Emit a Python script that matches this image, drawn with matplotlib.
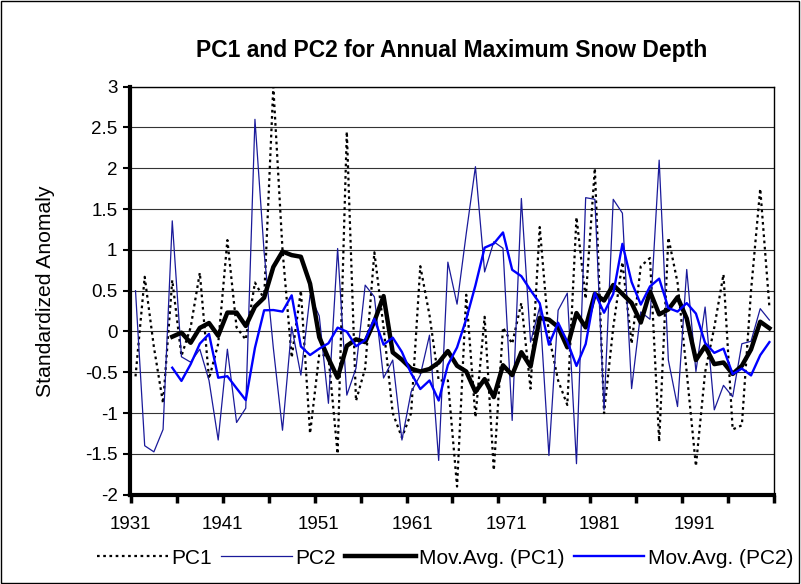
import numpy as np
import pandas as pd
import matplotlib
matplotlib.use("Agg")
import matplotlib.pyplot as plt
from matplotlib.patches import Rectangle

plt.rcParams['font.family'] = ['Liberation Sans', 'DejaVu Sans']

years = np.arange(1931, 2001)

pc1 = [-0.55, 0.67, -0.19, -0.88, 0.63, -0.3, 0.05, 0.72, -0.58, -0.15,
       1.12, 0.05, -0.1, 0.6, 0.4, 3.0, 1.0, -0.32, 0.5, -1.25,
       -0.28, -0.3, -1.5, 2.45, -0.85, -0.45, 0.97, 0.05, -1.0, -1.3,
       -1.0, 0.8, 0.2, -0.6, -0.6, -1.9, 0.45, -1.05, 0.18, -1.7,
       0.05, -0.15, 0.35, -0.7, 1.28, -0.05, -0.6, -0.9, 1.4, 0.4,
       2.0, -1.0, 0.05, 0.85, -0.15, 0.8, 0.9, -1.35, 1.15, 0.6,
       -0.5, -1.65, -0.5, 0.05, 0.7, -1.2, -1.15, 0.5, 1.75, 0.3]

pc2 = [0.5, -1.4, -1.475, -1.2, 1.356, -0.31, -0.376, -0.217, -0.6, -1.33,
       -0.217, -1.115, -0.94, 2.6, 0.97, -0.2, -1.21, 0.057, -0.535, 0.445,
       0.19, -0.88, 1.017, -0.78, -0.45, 0.568, 0.425, -0.57, -0.35, -1.33,
       -0.74, -0.535, -0.045, -1.58, 0.85, 0.335, 1.2, 2.02, 0.73, 1.1,
       1.02, -1.09, 1.63, -0.13, 0.30, -1.52, 0.26, 0.47, -1.62, 1.64,
       1.62, -0.96, 1.62, 1.45, -0.70, 0.24, 0.15, 2.1, -0.35, -0.92,
       0.76, -0.49, 0.3, -0.96, -0.66, -0.8, -0.15, -0.12, 0.28, 0.14]

tick_years = [1931, 1941, 1951, 1961, 1971, 1981, 1991]

df = pd.DataFrame({'year': years, 'PC1': pc1, 'PC2': pc2})
# 5-year moving averages (Excel trendline)
df['ma1'] = df['PC1'].rolling(5).mean()
df['ma2'] = df['PC2'].rolling(5).mean()

x = np.arange(len(df))

fig = plt.figure(figsize=(8.01, 5.84), dpi=100)
ax = fig.add_axes([130/801, 1 - 494.7/584, 644/801, 408/584])

ax.plot(x, df['PC1'], color='black', lw=1.6, ls=(0, (1.2, 1.6)), label='PC1')
ax.plot(x, df['PC2'], color='#1a1a9a', lw=0.9, label='PC2')
ax.plot(x, df['ma1'], color='black', lw=3.2, label='Mov.Avg. (PC1)')
ax.plot(x, df['ma2'], color='#0000ff', lw=1.7, label='Mov.Avg. (PC2)')

ax.set_xlim(-0.5, len(df) - 0.5)
ax.set_ylim(-2, 3)
ax.set_yticks(np.arange(-2, 3.01, 0.5))
ax.set_yticklabels([('%g' % v) for v in np.arange(-2, 3.01, 0.5)])
ax.grid(axis='y', color='#333333', lw=0.8)
ax.set_axisbelow(True)

ax.set_xticks(np.arange(-0.5, len(df), 5))
ax.set_xticklabels([])
# label positions as drawn by Excel (slightly wider spacing than the categories)
lab_pos = [-0.6, 9.45, 19.93, 30.1, 40.42, 50.48, 60.8]
ax.set_xticks(lab_pos, minor=True)
ax.set_xticklabels([str(y) for y in tick_years], minor=True)
ax.tick_params(axis='x', which='minor', length=0, pad=15, labelsize=13.5)
ax.tick_params(axis='x', which='major', length=6, width=2.5, direction='out')
ax.tick_params(axis='y', length=5, width=1.5, labelsize=13.5, pad=4)

for s in ['left', 'bottom']:
    ax.spines[s].set_linewidth(3)
ax.spines['top'].set_linewidth(1)
ax.spines['right'].set_linewidth(1)

fig.text(46/801, 1 - 291/584, 'Standardized Anomaly', rotation=90,
         ha='center', va='center', fontsize=15.2)
fig.text(452/801, 1 - 50/584, 'PC1 and PC2 for Annual Maximum Snow Depth',
         ha='center', va='center', fontsize=16.5, fontweight='bold')

leg = fig.legend(loc='center', bbox_to_anchor=(445/801, 1 - 558/584), ncol=4,
                 frameon=False, fontsize=15,
                 handlelength=3.4, handletextpad=0.15, columnspacing=0.45)

fig.patches.append(Rectangle((0.001, 0.001), 0.997, 0.997, transform=fig.transFigure,
                             fill=False, edgecolor='black', lw=1))

fig.savefig('out.png', dpi=100)
